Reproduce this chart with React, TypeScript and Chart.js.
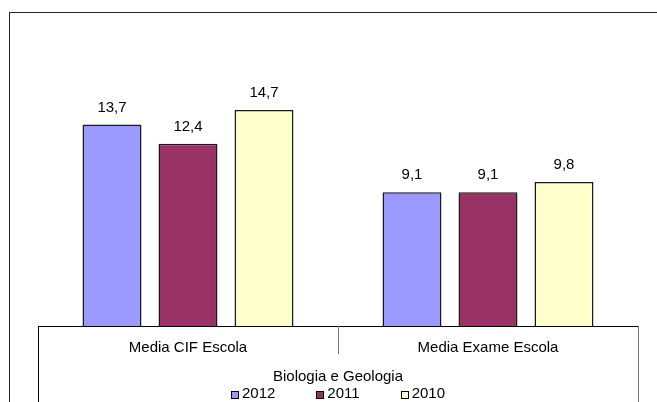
import React, { useEffect, useRef } from "react";
import { Chart, registerables } from "chart.js";

Chart.register(...registerables);

const categories = ["Media CIF Escola", "Media Exame Escola"];
const seriesLabels = ["2012", "2011", "2010"];
const values2012 = [13.7, 9.1];
const values2011 = [12.4, 9.1];
const values2010 = [14.7, 9.8];
const seriesColors = ["#9999FF", "#993366", "#FFFFCC"];
const axisTitle = "Biologia e Geologia";

const FONT = "'Liberation Sans', Arial, sans-serif";
const FS = 15;

const fmt = (v: number) => v.toFixed(1).replace(".", ",");

const decorPlugin = {
  id: "decor",
  afterDatasetsDraw(chart: any) {
    const ctx = chart.ctx;
    ctx.save();
    ctx.font = `${FS}px ${FONT}`;
    ctx.fillStyle = "#000";
    ctx.textAlign = "center";
    ctx.textBaseline = "middle";
    chart.data.datasets.forEach((ds: any, i: number) => {
      const meta = chart.getDatasetMeta(i);
      meta.data.forEach((el: any, j: number) => {
        ctx.fillText(fmt(ds.data[j]), el.x, el.y - 17);
      });
    });
    ctx.restore();
  },
  afterDraw(chart: any) {
    const ctx = chart.ctx;
    const area = chart.chartArea;
    const x = chart.scales.x;
    const n = chart.data.labels.length;
    const catW = (area.right - area.left) / n;
    ctx.save();
    // category boundary lines
    for (let i = 0; i <= n; i++) {
      const px = Math.round(x.getPixelForValue(i) - catW / 2) + 0.5;
      const outer = i === 0 || i === n;
      ctx.strokeStyle = i === 0 ? "#000" : "#777";
      ctx.lineWidth = 1;
      ctx.beginPath();
      ctx.moveTo(px, area.bottom);
      ctx.lineTo(px, outer ? chart.height : area.bottom + 28);
      ctx.stroke();
    }
    // legend
    ctx.font = `${FS}px ${FONT}`;
    ctx.textBaseline = "middle";
    ctx.textAlign = "left";
    const box = 7;
    const gap = 4;
    const spacing = 41;
    const items = chart.data.datasets.map((ds: any) => ({
      text: ds.label,
      color: ds.backgroundColor,
      w: box + gap + ctx.measureText(ds.label).width,
    }));
    const total =
      items.reduce((s: number, it: any) => s + it.w, 0) + spacing * (items.length - 1);
    let cx = (area.left + area.right) / 2 - total / 2;
    const cy = chart.height - 8;
    items.forEach((it: any) => {
      ctx.fillStyle = it.color;
      ctx.fillRect(Math.round(cx) + 0.5, Math.round(cy - box / 2) + 0.5, box, box);
      ctx.strokeStyle = "#000";
      ctx.lineWidth = 1;
      ctx.strokeRect(Math.round(cx) + 0.5, Math.round(cy - box / 2) + 0.5, box, box);
      ctx.fillStyle = "#000";
      ctx.fillText(it.text, cx + box + gap, cy);
      cx += it.w + spacing;
    });
    ctx.restore();
  },
};

export default function App() {
  const ref = useRef<HTMLCanvasElement | null>(null);

  useEffect(() => {
    if (!ref.current) return;
    const seriesData = [values2012, values2011, values2010];
    const chart = new Chart(ref.current, {
      type: "bar",
      data: {
        labels: categories,
        datasets: seriesLabels.map((label, i) => ({
          label,
          data: seriesData[i],
          backgroundColor: seriesColors[i],
          borderColor: "#1a1a1a",
          borderWidth: 1.5,
          categoryPercentage: 0.76,
          barPercentage: 0.776,
        })),
      },
      options: {
        responsive: false,
        animation: false,
        layout: { padding: { top: 32, left: 38, right: 19, bottom: 16 } },
        plugins: {
          legend: { display: false },
          tooltip: { enabled: false },
        },
        scales: {
          y: { display: false, min: 0, max: 20 },
          x: {
            grid: { display: false, drawTicks: false },
            border: { display: true, color: "#000", width: 1 },
            ticks: { color: "#000", padding: 13, font: { family: FONT, size: FS } },
            title: {
              display: true,
              text: axisTitle,
              color: "#000",
              font: { family: FONT, size: FS },
              padding: { top: -2, bottom: 0 },
            },
          },
        },
      },
      plugins: [decorPlugin],
    });
    return () => chart.destroy();
  }, []);

  return (
    <div
      style={{
        position: "fixed",
        left: 0,
        top: 0,
        width: 657,
        height: 402,
        overflow: "hidden",
        background: "#fff",
      }}
    >
      <div
        style={{
          position: "absolute",
          left: 9,
          top: 12,
          right: -10,
          bottom: -10,
          borderTop: "1px solid #222",
          borderLeft: "1px solid #222",
        }}
      />
      <canvas
        ref={ref}
        width={657}
        height={402}
        style={{ position: "absolute", left: 0, top: 0 }}
      />
    </div>
  );
}
